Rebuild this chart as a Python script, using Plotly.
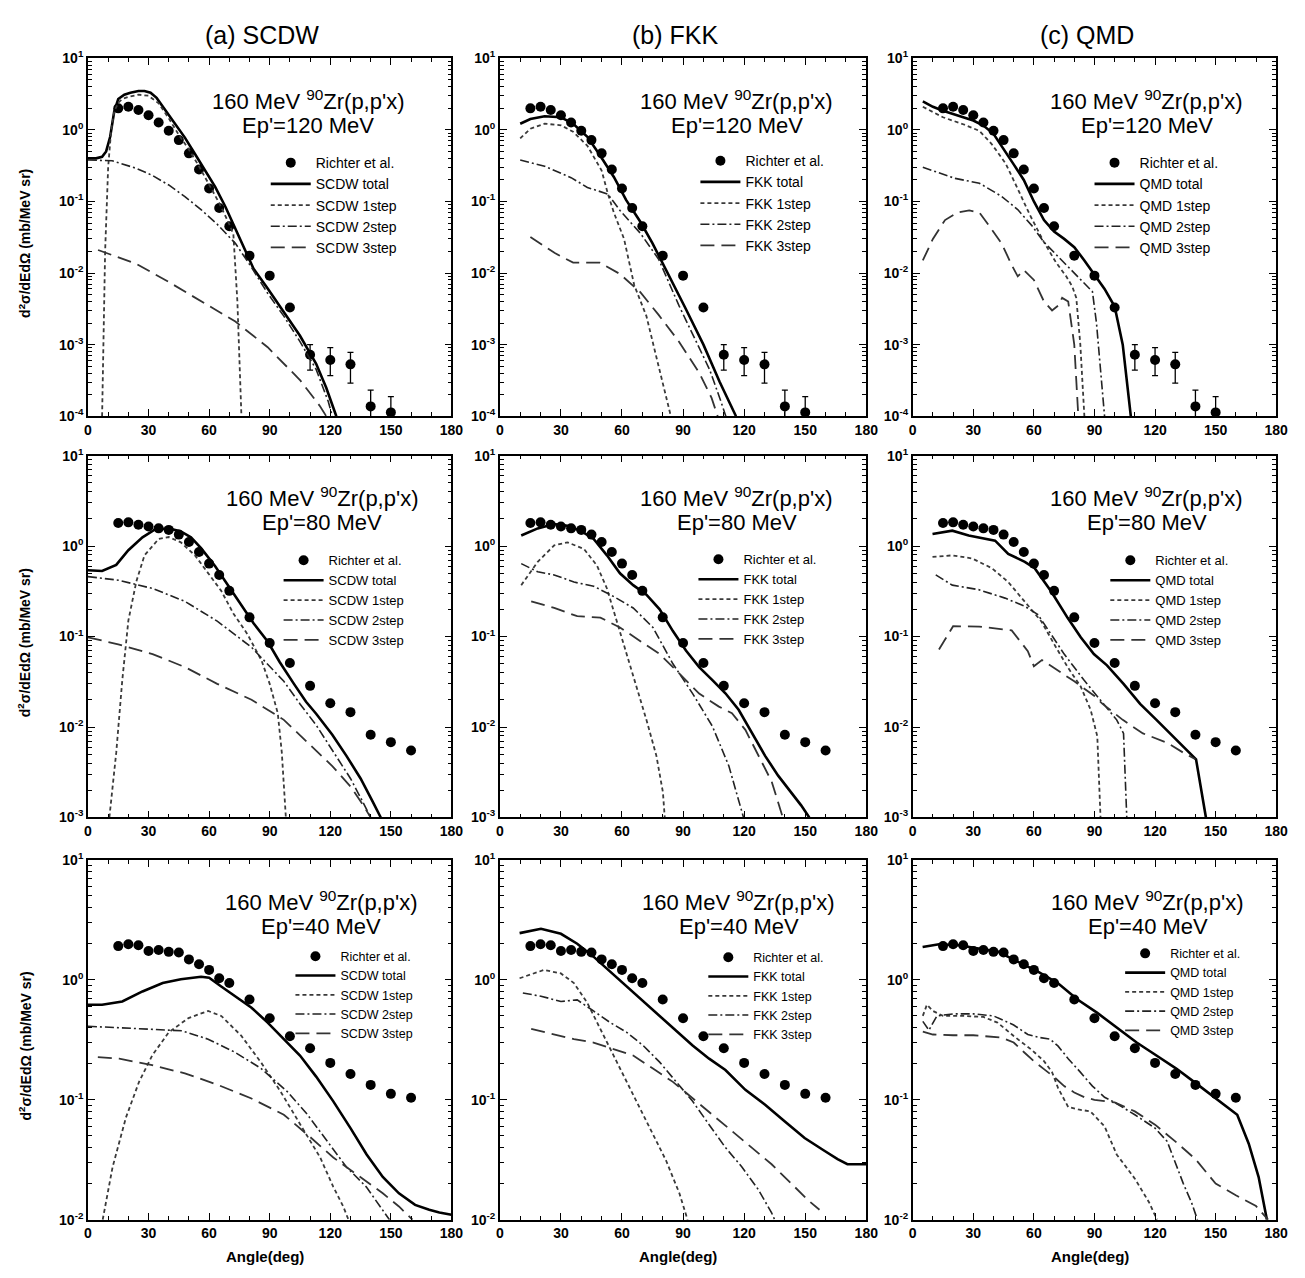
import plotly.graph_objects as go

# ------------------------------------------------------------------ data
# Experimental data (Richter et al.), 160 MeV 90Zr(p,p'x)
EXP_ANGLE_120 = [15, 20, 25, 30, 35, 40, 45, 50, 55, 60, 65, 70, 80, 90, 100, 110, 120, 130, 140, 150]
EXP_VAL_120 = [2.0, 2.1, 1.9, 1.6, 1.27, 0.97, 0.72, 0.47, 0.28, 0.152, 0.081, 0.045, 0.0175, 0.0092,
               0.0033, 7.2e-4, 6.1e-4, 5.3e-4, 1.37e-4, 1.13e-4]
EXP_ERRP_120 = [0] * 15 + [2.8e-4, 3.0e-4, 2.5e-4, 0.95e-4, 0.75e-4]
EXP_ERRM_120 = [0] * 15 + [2.8e-4, 2.4e-4, 2.4e-4, 0.9e-4, 0.7e-4]

EXP_ANGLE_80 = [15, 20, 25, 30, 35, 40, 45, 50, 55, 60, 65, 70, 80, 90, 100, 110, 120, 130, 140, 150, 160]
EXP_VAL_80 = [1.80, 1.83, 1.72, 1.65, 1.57, 1.51, 1.34, 1.11, 0.86, 0.64, 0.48, 0.32, 0.163, 0.085,
              0.051, 0.0285, 0.0183, 0.0146, 0.0082, 0.0068, 0.0055]

EXP_ANGLE_40 = [15, 20, 25, 30, 35, 40, 45, 50, 55, 60, 65, 70, 80, 90, 100, 110, 120, 130, 140, 150, 160]
EXP_VAL_40 = [1.91, 1.98, 1.94, 1.74, 1.77, 1.71, 1.69, 1.48, 1.35, 1.21, 1.03, 0.94, 0.685, 0.478,
              0.338, 0.269, 0.203, 0.164, 0.133, 0.112, 0.104]

# ---- SCDW, Ep'=120 MeV
SCDW120_TOTAL_X = [0, 4, 7, 9, 11, 13, 15, 18, 21, 25, 28, 31, 34, 38, 43, 48, 53, 58, 63, 68, 73, 78, 82, 89, 97, 105, 113, 118, 123]
SCDW120_TOTAL_Y = [0.4, 0.4, 0.42, 0.5, 0.8, 1.8, 2.7, 3.1, 3.3, 3.5, 3.5, 3.3, 2.8, 1.95, 1.25, 0.78, 0.46, 0.27, 0.16, 0.085, 0.042, 0.021, 0.0115, 0.0061, 0.0029, 0.00133, 5.4e-4, 2.5e-4, 1e-4]
SCDW120_1STEP_X = [7, 8.5, 10, 11.5, 13, 15, 17, 20, 25, 30, 35, 40, 45, 50, 55, 60, 65, 70, 72, 74, 76]
SCDW120_1STEP_Y = [1e-4, 0.02, 0.3, 1.0, 1.8, 2.4, 2.7, 2.9, 3.1, 3.0, 2.35, 1.45, 0.85, 0.53, 0.31, 0.17, 0.095, 0.048, 0.035, 0.004, 1e-4]
SCDW120_2STEP_X = [0, 12, 24, 32, 40, 48, 56, 64, 73, 81, 89, 97, 105, 113, 119, 121]
SCDW120_2STEP_Y = [0.38, 0.37, 0.29, 0.23, 0.17, 0.117, 0.077, 0.048, 0.026, 0.012, 0.0052, 0.0025, 0.0011, 4.5e-4, 1.6e-4, 1e-4]
SCDW120_3STEP_X = [5, 24, 40, 56, 73, 89, 105, 115, 118]
SCDW120_3STEP_Y = [0.021, 0.0134, 0.0075, 0.004, 0.0021, 9.2e-4, 3.2e-4, 1.37e-4, 1e-4]

# ---- FKK, Ep'=120 MeV
FKK120_TOTAL_X = [10, 15, 22, 30, 36, 43, 49, 56, 62, 69, 75, 82.5, 91, 100, 108, 116]
FKK120_TOTAL_Y = [1.22, 1.42, 1.55, 1.5, 1.22, 0.8, 0.45, 0.22, 0.105, 0.052, 0.026, 0.01, 0.0033, 0.001, 3e-4, 1e-4]
FKK120_1STEP_X = [10, 15, 22, 30, 36, 43, 50, 53, 56, 61, 66, 72, 77, 84]
FKK120_1STEP_Y = [0.76, 1.04, 1.22, 1.16, 0.94, 0.6, 0.27, 0.13, 0.07, 0.03, 0.0068, 0.0025, 6.5e-4, 1e-4]
FKK120_2STEP_X = [10, 22, 35, 43, 53, 59, 69, 78, 88, 96, 103, 108, 111]
FKK120_2STEP_Y = [0.38, 0.31, 0.215, 0.157, 0.127, 0.075, 0.036, 0.0156, 0.0035, 0.0012, 4.5e-4, 1.8e-4, 1e-4]
FKK120_3STEP_X = [15, 27, 36, 49, 59, 69, 78, 88, 98, 104, 107]
FKK120_3STEP_Y = [0.032, 0.019, 0.014, 0.014, 0.0097, 0.0054, 0.0026, 0.0011, 4e-4, 1.8e-4, 1e-4]

# ---- QMD, Ep'=120 MeV
QMD120_TOTAL_X = [5, 10, 15, 20, 25, 30, 35, 40, 45, 50, 55, 60, 65, 70, 75, 80, 85, 90, 95, 100, 104, 108]
QMD120_TOTAL_Y = [2.5, 2.1, 1.85, 1.65, 1.5, 1.35, 1.15, 0.88, 0.55, 0.33, 0.2, 0.1, 0.055, 0.038, 0.03, 0.023, 0.015, 0.0095, 0.006, 0.0034, 0.001, 1e-4]
QMD120_1STEP_X = [5, 15, 25, 33, 39, 46, 52, 58, 65, 71, 76, 79, 81, 83, 85]
QMD120_1STEP_Y = [2.1, 1.5, 1.2, 0.97, 0.64, 0.34, 0.15, 0.065, 0.027, 0.014, 0.009, 0.0065, 0.0045, 0.001, 1e-4]
QMD120_2STEP_X = [5, 21, 33, 44, 52, 59, 65, 72, 80, 89, 91, 93, 95]
QMD120_2STEP_Y = [0.3, 0.21, 0.18, 0.118, 0.077, 0.046, 0.027, 0.017, 0.01, 0.0055, 0.002, 4e-4, 1e-4]
QMD120_3STEP_X = [5, 10, 16, 22, 28, 33, 38, 44, 49, 52, 55, 60, 65, 69, 72, 74, 77, 80, 82]
QMD120_3STEP_Y = [0.015, 0.03, 0.055, 0.07, 0.075, 0.07, 0.045, 0.026, 0.013, 0.009, 0.011, 0.008, 0.004, 0.003, 0.0035, 0.0045, 0.004, 0.001, 1e-4]

# ---- SCDW, Ep'=80 MeV
SCDW80_TOTAL_X = [0, 7, 14, 20, 27, 33, 40, 46, 51, 56, 63, 69, 76, 82, 89, 95, 102, 108, 113, 121, 128, 135, 141, 145]
SCDW80_TOTAL_Y = [0.54, 0.53, 0.62, 0.9, 1.25, 1.52, 1.57, 1.45, 1.25, 0.95, 0.6, 0.38, 0.225, 0.14, 0.088, 0.052, 0.030, 0.019, 0.014, 0.0082, 0.0048, 0.0027, 0.0015, 0.001]
SCDW80_1STEP_X = [10.6, 12, 14, 17, 20, 24, 28, 35, 40, 46, 53, 59, 66, 72, 79, 86, 90, 94, 96, 98]
SCDW80_1STEP_Y = [0.001, 0.002, 0.0052, 0.033, 0.15, 0.41, 0.79, 1.2, 1.26, 1.1, 0.79, 0.52, 0.32, 0.18, 0.106, 0.054, 0.030, 0.0142, 0.0052, 0.001]
SCDW80_2STEP_X = [0, 15, 32, 48, 64, 81, 97, 105, 113, 121, 130, 136, 140]
SCDW80_2STEP_Y = [0.46, 0.42, 0.34, 0.245, 0.148, 0.076, 0.032, 0.018, 0.0105, 0.0055, 0.0027, 0.0015, 0.001]
SCDW80_3STEP_X = [0, 15, 32, 48, 64, 81, 97, 113, 121, 130, 136, 140]
SCDW80_3STEP_Y = [0.098, 0.082, 0.064, 0.046, 0.030, 0.020, 0.012, 0.0055, 0.0037, 0.0022, 0.0014, 0.001]

# ---- FKK, Ep'=80 MeV
FKK80_TOTAL_X = [10.5, 18.6, 26.7, 33.2, 39.6, 46.1, 52.6, 59, 65.5, 72, 78.5, 85, 91.4, 97.9, 104.4, 110.8, 117.3, 123.8, 130.3, 136.7, 143.2, 148, 152]
FKK80_TOTAL_Y = [1.31, 1.57, 1.75, 1.68, 1.48, 1.2, 0.79, 0.5, 0.37, 0.29, 0.2, 0.115, 0.07, 0.046, 0.033, 0.0236, 0.0155, 0.0086, 0.0048, 0.0029, 0.0019, 0.00136, 0.001]
FKK80_1STEP_X = [10.5, 18.6, 26.7, 33.2, 41.3, 47.7, 52.6, 57.4, 62.3, 67.2, 72, 76.9, 80.1, 81]
FKK80_1STEP_Y = [0.37, 0.67, 1.02, 1.1, 0.93, 0.61, 0.34, 0.148, 0.064, 0.028, 0.012, 0.0048, 0.0019, 0.001]
FKK80_2STEP_X = [10.5, 18.6, 26.7, 36.4, 46.1, 55.8, 65.5, 75.2, 85, 94.7, 104.4, 112.5, 118, 119.7]
FKK80_2STEP_Y = [0.64, 0.52, 0.48, 0.40, 0.36, 0.278, 0.207, 0.126, 0.05, 0.0234, 0.0102, 0.0037, 0.00136, 0.001]
FKK80_3STEP_X = [15.4, 26.7, 38, 49.4, 59, 68.8, 78.5, 88.2, 97.9, 107.6, 114, 120.6, 127, 133.5, 139]
FKK80_3STEP_Y = [0.245, 0.207, 0.168, 0.162, 0.126, 0.09, 0.064, 0.039, 0.0234, 0.0168, 0.0142, 0.0093, 0.0048, 0.0025, 0.001]

# ---- QMD, Ep'=80 MeV
QMD80_TOTAL_X = [9.8, 19.6, 27.7, 40.8, 47.3, 55.5, 60.4, 68.5, 76.7, 83.2, 89.7, 96.2, 104.4, 112.6, 120.7, 128.9, 137, 140.3, 145.2]
QMD80_TOTAL_Y = [1.36, 1.48, 1.31, 1.15, 0.82, 0.67, 0.57, 0.316, 0.161, 0.098, 0.064, 0.048, 0.030, 0.018, 0.012, 0.0079, 0.0052, 0.0044, 0.001]
QMD80_1STEP_X = [9.8, 19.6, 29.4, 39.2, 47.3, 55.5, 63.6, 70.1, 76.7, 83.2, 88.1, 91.4, 93]
QMD80_1STEP_Y = [0.76, 0.79, 0.73, 0.57, 0.40, 0.245, 0.148, 0.082, 0.046, 0.028, 0.0155, 0.0079, 0.001]
QMD80_2STEP_X = [11.4, 19.6, 32.6, 45.7, 55.5, 62, 68.5, 75, 84.8, 94.6, 101, 104.4, 106]
QMD80_2STEP_Y = [0.48, 0.37, 0.33, 0.266, 0.216, 0.175, 0.106, 0.064, 0.033, 0.018, 0.012, 0.0085, 0.001]
QMD80_3STEP_X = [13, 20, 33, 49, 57, 60, 64, 70, 80, 90, 94, 104, 114, 126, 134, 140]
QMD80_3STEP_Y = [0.072, 0.13, 0.129, 0.117, 0.069, 0.047, 0.055, 0.045, 0.032, 0.022, 0.018, 0.012, 0.0085, 0.0067, 0.0052, 0.0044]

# ---- SCDW, Ep'=40 MeV
SCDW40_TOTAL_X = [0, 7, 17, 27, 37, 46, 56, 60, 66, 73, 81, 89, 97, 105, 113, 121.5, 130, 138, 146, 154, 162, 169, 174, 180]
SCDW40_TOTAL_Y = [0.62, 0.62, 0.66, 0.80, 0.94, 1.01, 1.06, 1.04, 0.88, 0.73, 0.585, 0.44, 0.32, 0.234, 0.156, 0.097, 0.058, 0.035, 0.0227, 0.0166, 0.0133, 0.0121, 0.0115, 0.011]
SCDW40_1STEP_X = [7.3, 12.2, 18.8, 25.3, 31.8, 40, 49.8, 59.5, 66, 75.9, 85.6, 95.4, 105.2, 115, 121.5, 126.4, 129]
SCDW40_1STEP_Y = [0.01, 0.0275, 0.071, 0.141, 0.234, 0.365, 0.48, 0.55, 0.50, 0.342, 0.206, 0.117, 0.062, 0.033, 0.0188, 0.0129, 0.01]
SCDW40_2STEP_X = [0, 15.5, 31.8, 46.5, 59.5, 72.6, 85.6, 98.7, 108.5, 118.3, 128, 137.8, 144.4, 149.3]
SCDW40_2STEP_Y = [0.41, 0.40, 0.39, 0.376, 0.32, 0.25, 0.183, 0.117, 0.076, 0.046, 0.0275, 0.0188, 0.0129, 0.01]
SCDW40_3STEP_X = [4.9, 15.5, 31.8, 48, 64.4, 80.7, 97, 108.5, 121.5, 134.6, 146, 154, 160.7]
SCDW40_3STEP_Y = [0.227, 0.22, 0.194, 0.166, 0.133, 0.103, 0.075, 0.0515, 0.033, 0.0227, 0.0166, 0.0129, 0.01]

# ---- FKK, Ep'=40 MeV
FKK40_TOTAL_X = [9.7, 20.2, 30, 38, 46, 54.2, 62.3, 70.4, 78.5, 86.6, 94.7, 102.8, 110.8, 120.6, 130.3, 140, 149.7, 159.4, 165.9, 170.7, 180]
FKK40_TOTAL_Y = [2.45, 2.66, 2.42, 2.0, 1.56, 1.17, 0.88, 0.66, 0.50, 0.376, 0.283, 0.22, 0.177, 0.121, 0.091, 0.066, 0.048, 0.0376, 0.032, 0.029, 0.029]
FKK40_1STEP_X = [9.7, 21.8, 30, 36.4, 42.9, 49.4, 55.8, 62.3, 68.8, 75.2, 81.7, 88.2, 92.2]
FKK40_1STEP_Y = [1.03, 1.21, 1.13, 0.94, 0.645, 0.39, 0.234, 0.141, 0.085, 0.0515, 0.031, 0.0166, 0.01]
FKK40_2STEP_X = [11.3, 20.2, 30, 38, 46, 54.2, 62.3, 70.4, 78.5, 86.6, 94.7, 102.8, 110.8, 118.9, 127, 133.5, 135]
FKK40_2STEP_Y = [0.776, 0.73, 0.66, 0.68, 0.55, 0.44, 0.365, 0.283, 0.206, 0.141, 0.097, 0.062, 0.040, 0.0275, 0.0178, 0.0114, 0.01]
FKK40_3STEP_X = [15.4, 26.7, 36.4, 46, 55.8, 65.5, 75.2, 85, 94.7, 104.4, 114, 123.8, 133.5, 143.2, 151.3, 157]
FKK40_3STEP_Y = [0.39, 0.353, 0.32, 0.30, 0.266, 0.234, 0.182, 0.141, 0.103, 0.075, 0.055, 0.040, 0.029, 0.020, 0.0146, 0.0121]

# ---- QMD, Ep'=40 MeV
QMD40_TOTAL_X = [4.9, 13, 22.8, 32.6, 42.4, 52.2, 62, 71.8, 81.6, 91.4, 101.1, 110.9, 120.7, 130.5, 140.3, 150, 160.7, 166.4, 171.3, 175.4]
QMD40_TOTAL_Y = [1.88, 1.98, 1.94, 1.82, 1.71, 1.41, 1.17, 0.94, 0.685, 0.53, 0.40, 0.30, 0.234, 0.182, 0.137, 0.103, 0.075, 0.043, 0.0227, 0.01]
QMD40_1STEP_X = [5, 7, 10, 15, 25, 35, 42, 50, 59, 65, 69, 72, 77, 82, 88, 95, 101, 110, 117, 121]
QMD40_1STEP_Y = [0.5, 0.62, 0.55, 0.5, 0.5, 0.49, 0.44, 0.34, 0.26, 0.21, 0.17, 0.125, 0.087, 0.083, 0.08, 0.06, 0.035, 0.022, 0.014, 0.01]
QMD40_2STEP_X = [5, 8, 12, 20, 30, 40, 50, 57, 63, 68, 72, 77, 83, 89, 95, 100, 110, 120, 126, 130, 134, 138, 141]
QMD40_2STEP_Y = [0.45, 0.38, 0.5, 0.52, 0.52, 0.5, 0.42, 0.35, 0.33, 0.32, 0.28, 0.22, 0.17, 0.13, 0.105, 0.095, 0.075, 0.058, 0.045, 0.03, 0.02, 0.014, 0.01]
QMD40_3STEP_X = [5, 10, 20, 30, 44, 50, 55, 60, 65, 70, 75, 80, 85, 90, 100, 110, 120, 130, 140, 150, 160, 170, 176]
QMD40_3STEP_Y = [0.37, 0.35, 0.345, 0.345, 0.33, 0.3, 0.25, 0.21, 0.18, 0.155, 0.13, 0.115, 0.105, 0.1, 0.095, 0.08, 0.062, 0.045, 0.032, 0.02, 0.016, 0.013, 0.01]

MODELS = ["SCDW", "FKK", "QMD"]
COLUMN_TITLES = ["(a) SCDW", "(b) FKK", "(c) QMD"]
ENERGIES = [120, 80, 40]
X_TICKS = [0, 30, 60, 90, 120, 150, 180]

CURVES = {
    ("SCDW", 120): [(SCDW120_TOTAL_X, SCDW120_TOTAL_Y), (SCDW120_1STEP_X, SCDW120_1STEP_Y), (SCDW120_2STEP_X, SCDW120_2STEP_Y), (SCDW120_3STEP_X, SCDW120_3STEP_Y)],
    ("FKK", 120): [(FKK120_TOTAL_X, FKK120_TOTAL_Y), (FKK120_1STEP_X, FKK120_1STEP_Y), (FKK120_2STEP_X, FKK120_2STEP_Y), (FKK120_3STEP_X, FKK120_3STEP_Y)],
    ("QMD", 120): [(QMD120_TOTAL_X, QMD120_TOTAL_Y), (QMD120_1STEP_X, QMD120_1STEP_Y), (QMD120_2STEP_X, QMD120_2STEP_Y), (QMD120_3STEP_X, QMD120_3STEP_Y)],
    ("SCDW", 80): [(SCDW80_TOTAL_X, SCDW80_TOTAL_Y), (SCDW80_1STEP_X, SCDW80_1STEP_Y), (SCDW80_2STEP_X, SCDW80_2STEP_Y), (SCDW80_3STEP_X, SCDW80_3STEP_Y)],
    ("FKK", 80): [(FKK80_TOTAL_X, FKK80_TOTAL_Y), (FKK80_1STEP_X, FKK80_1STEP_Y), (FKK80_2STEP_X, FKK80_2STEP_Y), (FKK80_3STEP_X, FKK80_3STEP_Y)],
    ("QMD", 80): [(QMD80_TOTAL_X, QMD80_TOTAL_Y), (QMD80_1STEP_X, QMD80_1STEP_Y), (QMD80_2STEP_X, QMD80_2STEP_Y), (QMD80_3STEP_X, QMD80_3STEP_Y)],
    ("SCDW", 40): [(SCDW40_TOTAL_X, SCDW40_TOTAL_Y), (SCDW40_1STEP_X, SCDW40_1STEP_Y), (SCDW40_2STEP_X, SCDW40_2STEP_Y), (SCDW40_3STEP_X, SCDW40_3STEP_Y)],
    ("FKK", 40): [(FKK40_TOTAL_X, FKK40_TOTAL_Y), (FKK40_1STEP_X, FKK40_1STEP_Y), (FKK40_2STEP_X, FKK40_2STEP_Y), (FKK40_3STEP_X, FKK40_3STEP_Y)],
    ("QMD", 40): [(QMD40_TOTAL_X, QMD40_TOTAL_Y), (QMD40_1STEP_X, QMD40_1STEP_Y), (QMD40_2STEP_X, QMD40_2STEP_Y), (QMD40_3STEP_X, QMD40_3STEP_Y)],
}
EXP = {
    120: (EXP_ANGLE_120, EXP_VAL_120, EXP_ERRP_120, EXP_ERRM_120),
    80: (EXP_ANGLE_80, EXP_VAL_80, None, None),
    40: (EXP_ANGLE_40, EXP_VAL_40, None, None),
}

# ------------------------------------------------------------------ layout geometry (pixels)
W, H = 1305, 1278
FONT = "Liberation Sans, Arial, Helvetica, sans-serif"
COL_PX = [(85, 453), (502, 873), (920, 1288)]
ROW_PX = [(49, 412), (452, 819), (862, 1227)]
ROW_YMIN = [-4, -3, -2]
TEXT_X = [[308, 742, 1157], [322, 742, 1157], [321, 744, 1158]]
LEG_POS = [[(290, 150), (725, 148), (1124, 150)],
           [(303, 554), (723, 553), (1140, 554)],
           [(315, 956), (733, 957), (1155, 953)]]
LEG_FONT = [14, 13, 12.5]


def fx(px):
    return px / W


def fy(py):
    return 1 - py / H


LINE_STYLES = [
    dict(color="black", width=2.6, dash="solid"),
    dict(color="#3a3a3a", width=1.8, dash="4px,3px"),
    dict(color="#222", width=1.6, dash="9px,3px,2px,3px"),
    dict(color="#333", width=1.8, dash="14px,7px"),
]
SUFFIXES = ["total", "1step", "2step", "3step"]

fig = go.Figure()
layout = dict()
annotations = []

for r, energy in enumerate(ENERGIES):
    for c, model in enumerate(MODELS):
        p = r * 3 + c
        sfx = "" if p == 0 else str(p + 1)
        leg = "legend" if p == 0 else "legend" + str(p + 1)
        xs, ys_ = "x" + sfx, "y" + sfx

        ang, val, ep, em = EXP[energy]
        err = None
        if ep is not None:
            err = dict(type="data", symmetric=False, array=ep, arrayminus=em,
                       color="black", thickness=1.3, width=3)
        fig.add_trace(go.Scatter(x=ang, y=val, mode="markers", name="Richter et al.",
                                 marker=dict(color="black", size=10), error_y=err,
                                 xaxis=xs, yaxis=ys_, legend=leg))
        for (cx, cy), st, sname in zip(CURVES[(model, energy)], LINE_STYLES, SUFFIXES):
            fig.add_trace(go.Scatter(x=cx, y=cy, mode="lines", name=f"{model} {sname}",
                                     line=st, xaxis=xs, yaxis=ys_, legend=leg))

        x0, x1 = COL_PX[c]
        y0, y1 = ROW_PX[r]
        ymin = ROW_YMIN[r]
        layout["xaxis" + sfx] = dict(
            domain=[fx(x0), fx(x1)], range=[0, 180], anchor="y" + sfx,
            tickmode="array", tickvals=X_TICKS, ticktext=[f"<b>{t}</b>" for t in X_TICKS],
            ticks="inside", ticklen=7, tickwidth=1.4, tickcolor="black",
            showline=True, linecolor="black", linewidth=1.6, mirror="allticks",
            showgrid=False, zeroline=False,
            minor=dict(ticks="inside", ticklen=4, tickwidth=1, tickcolor="black",
                       tickmode="array", tickvals=[v for v in range(10, 180, 10) if v % 30]),
            tickfont=dict(family=FONT, size=14, color="black"),
        )
        layout["yaxis" + sfx] = dict(
            domain=[fy(y1), fy(y0)], type="log", range=[ymin, 1], anchor="x" + sfx,
            tickmode="array", tickvals=[10.0 ** k for k in range(ymin, 2)],
            ticktext=[f"<b>10<sup>{k}</sup></b>" for k in range(ymin, 2)],
            ticks="inside", ticklen=7, tickwidth=1.4, tickcolor="black",
            showline=True, linecolor="black", linewidth=1.6, mirror="allticks",
            showgrid=False, zeroline=False,
            minor=dict(ticks="inside", ticklen=4, tickwidth=1, tickcolor="black",
                       tickmode="array",
                       tickvals=[m * 10.0 ** k for k in range(ymin, 1) for m in range(2, 10)]),
            tickfont=dict(family=FONT, size=14, color="black"),
        )

        tx = TEXT_X[r][c]
        annotations.append(dict(text="160 MeV <sup>90</sup>Zr(p,p'x)", x=fx(tx), y=fy(y0 + 42),
                                xref="paper", yref="paper", showarrow=False,
                                xanchor="center", yanchor="middle",
                                font=dict(family=FONT, size=22, color="black")))
        annotations.append(dict(text=f"Ep'={energy} MeV", x=fx(tx), y=fy(y0 + 68),
                                xref="paper", yref="paper", showarrow=False,
                                xanchor="center", yanchor="middle",
                                font=dict(family=FONT, size=22, color="black")))

        lx, ly = LEG_POS[r][c]
        layout[leg] = dict(x=fx(lx - 25), y=fy(ly - 11), xanchor="left", yanchor="top",
                           xref="paper", yref="paper", bgcolor="rgba(0,0,0,0)",
                           borderwidth=0, itemwidth=40, traceorder="normal",
                           font=dict(family=FONT, size=LEG_FONT[r], color="black"))

for c, title in enumerate(COLUMN_TITLES):
    x0, x1 = COL_PX[c]
    annotations.append(dict(text=title, x=fx((x0 + x1) / 2 - 8), y=fy(25), xref="paper", yref="paper",
                            showarrow=False, xanchor="center", yanchor="middle",
                            font=dict(family=FONT, size=25, color="black")))
    annotations.append(dict(text="<b>Angle(deg)</b>", x=fx((x0 + x1) / 2 - 5), y=fy(1264), xref="paper",
                            yref="paper", showarrow=False, xanchor="center", yanchor="middle",
                            font=dict(family=FONT, size=15, color="black")))

for r in range(3):
    y0, y1 = ROW_PX[r]
    annotations.append(dict(text="<b>d<sup>2</sup>σ/dEdΩ (mb/MeV sr)</b>", x=fx(21), y=fy((y0 + y1) / 2 + 6),
                            xref="paper", yref="paper", showarrow=False, textangle=-90,
                            xanchor="center", yanchor="middle",
                            font=dict(family=FONT, size=14, color="black")))

fig.update_layout(
    width=W, height=H, margin=dict(l=0, r=0, t=0, b=0),
    paper_bgcolor="white", plot_bgcolor="white",
    showlegend=True, annotations=annotations,
    font=dict(family=FONT, color="black"),
    **layout,
)

fig.write_html("out.html")
